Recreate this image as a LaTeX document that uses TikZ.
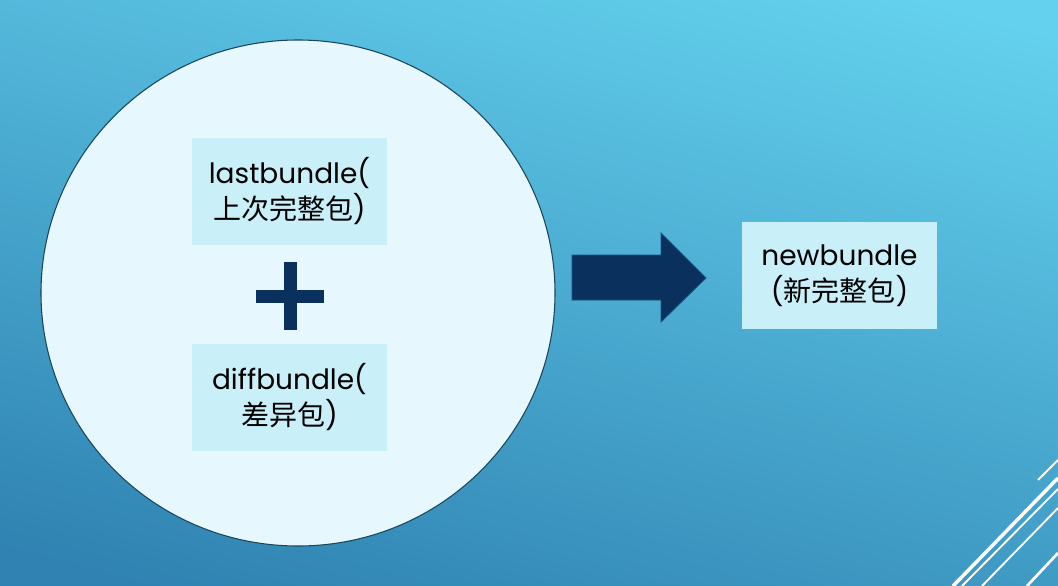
\documentclass[tikz,border=0pt]{standalone}
\usepackage{fontspec}
\usetikzlibrary{shapes.geometric}
\setmainfont{Poppins}
\newfontfamily\cjk{Noto Sans CJK SC}[Scale=1.0]
\definecolor{bgtop}{HTML}{64D1EE}
\definecolor{bgbot}{HTML}{2F82B1}
\definecolor{circfill}{HTML}{E6F8FD}
\definecolor{circline}{HTML}{1B4558}
\definecolor{boxfill}{HTML}{C9EFF9}
\definecolor{navy}{HTML}{0A315E}
\tikzset{
  labelbox/.style={fill=boxfill, draw=none, minimum width=146.25pt, minimum height=80.25pt, align=center, inner sep=0pt, font=\fontsize{21}{27}\selectfont},
  deco/.style={draw=white, line cap=butt},
}
\begin{document}
\begin{tikzpicture}[x=0.75pt,y=-0.75pt]
\useasboundingbox (0,0) rectangle (1058,586);
% background
\shade[top color=bgtop, bottom color=bgbot, shading angle=-15] (-60,-40) rectangle (1118,626);
% decorative lines bottom right
\coordinate (l1a) at (953,586); \coordinate (l1b) at (1058,478);
\coordinate (l2a) at (962,586); \coordinate (l2b) at (1058,489);
\coordinate (l3a) at (982,586); \coordinate (l3b) at (1058,508);
\coordinate (l4a) at (1027,586); \coordinate (l4b) at (1058,553);
\coordinate (l5a) at (1038,480); \coordinate (l5b) at (1058,460);
\draw[deco, line width=2.6pt] (l1a) -- (l1b);
\draw[deco, line width=1.4pt] (l2a) -- (l2b);
\draw[deco, line width=1.4pt] (l3a) -- (l3b);
\draw[deco, line width=2pt] (l4a) -- (l4b);
\draw[deco, line width=1.4pt] (l5a) -- (l5b);
% circle
\node[ellipse, fill=circfill, draw=circline, line width=0.8pt, minimum width=385.5pt, minimum height=379.5pt, inner sep=0pt] (circ) at (298,293) {};
% boxes
\node[labelbox] (last) at (289.5,191.5) {lastbundle(\\{\cjk 上次完整包}\kern-0.5pt)};
\node[labelbox] (diff) at (289.5,397.5) {diffbundle(\\{\cjk 差异包})};
\node[labelbox] (new) at (839.5,275.5) {newbundle\\({\cjk 新完整包})};
% plus sign
\coordinate (plusc) at (290,296);
\fill[navy] (283.5,262) rectangle (296.5,330);
\fill[navy] (256,289.5) rectangle (324,302.5);
% block arrow
\coordinate (arrtip) at (706,278);
\filldraw[fill=navy, draw=navy!80!bgtop, line width=0.6pt] (572,255) -- (661,255) -- (661,233) -- (arrtip) -- (661,322) -- (661,300) -- (572,300) -- cycle;
\end{tikzpicture}
\end{document}
